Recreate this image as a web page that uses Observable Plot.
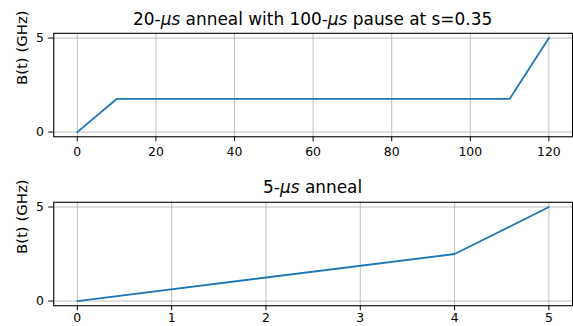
<!DOCTYPE html>
<html>
<head>
<meta charset="utf-8">
<script src="https://cdn.jsdelivr.net/npm/d3@7"></script>
<script src="https://cdn.jsdelivr.net/npm/@observablehq/plot@0.6"></script>
<style>
  html, body { margin: 0; padding: 0; background: #fff; overflow: hidden; }
  #chart { width: 573px; height: 326px; overflow: hidden; }
  #chart svg { display: block; }
</style>
</head>
<body>
<div id="chart"></div>
<script>
// Annealing schedules: transverse field B(t) against time t (µs)

// 20-µs anneal with a 100-µs pause at s = 0.35
const pauseTime = [0, 10, 110, 120];
const pauseField = [0, 1.76, 1.76, 5.0];
const pauseTicksX = [0, 20, 40, 60, 80, 100, 120];

// plain 5-µs anneal
const plainTime = [0, 4, 5];
const plainField = [0, 2.5, 5.0];
const plainTicksX = [0, 1, 2, 3, 4, 5];

const ticksY = [0, 5];
const yLabel = "B(t) (GHz)";

const FONT = "DejaVu Sans, sans-serif";
const BLUE = "#1f77b4";
const GRID = "#b0b0b0";
const TICK_FONT = 12.5;
const LABEL_FONT = 15;
const TITLE_FONT = 17;

function panel({time, field, ticksX, titleParts, marginTop, marginBottom, titleY, xPad}) {
  const data = time.map((t, i) => ({t, b: field[i]}));
  const xMax = time[time.length - 1];
  const pad = xMax * 0.05;
  const svg = Plot.plot({
    width: 576,
    height: 163,
    marginLeft: 53.5,
    marginRight: 1,
    marginTop,
    marginBottom,
    style: {fontFamily: FONT, fontSize: `${TICK_FONT}px`, color: "#000", background: "#fff"},
    x: {domain: [-pad, xMax + pad]},
    y: {domain: [-0.25, 5.25]},
    marks: [
      Plot.gridX(ticksX, {stroke: GRID, strokeOpacity: 1, strokeWidth: 0.8}),
      Plot.gridY(ticksY, {stroke: GRID, strokeOpacity: 1, strokeWidth: 0.8}),
      Plot.line(data, {x: "t", y: "b", stroke: BLUE, strokeWidth: 1.8}),
      Plot.frame({stroke: "#000", strokeWidth: 1.1}),
      Plot.axisX({ticks: ticksX, tickFormat: (d) => String(d), tickSize: 5, tickPadding: xPad, label: null,
                  fontSize: TICK_FONT, fontFamily: FONT}),
      Plot.axisY({ticks: ticksY, tickFormat: (d) => String(d), tickSize: 5, tickPadding: 5, label: null,
                  fontSize: TICK_FONT, fontFamily: FONT}),
      Plot.text([yLabel], {frameAnchor: "left", rotate: -90, dx: -32, fontSize: LABEL_FONT, fontFamily: FONT, fill: "#000"})
    ]
  });
  // title with the italic µs unit
  const cx = (53.5 + 575) / 2;
  const title = d3.select(svg).append("text")
    .attr("x", cx)
    .attr("y", titleY)
    .attr("text-anchor", "middle")
    .attr("font-family", FONT)
    .attr("font-size", `${TITLE_FONT}px`)
    .attr("fill", "#000");
  for (const [txt, italic] of titleParts) {
    const ts = title.append("tspan").text(txt);
    if (italic) ts.attr("font-style", "italic");
  }
  return svg;
}

const chart = document.getElementById("chart");
chart.append(panel({
  time: pauseTime, field: pauseField, ticksX: pauseTicksX,
  titleParts: [["20-", false], ["μs", true], [" anneal with 100-", false], ["μs", true], [" pause at s=0.35", false]],
  marginTop: 33, marginBottom: 26, titleY: 25, xPad: 5
}));
chart.append(panel({
  time: plainTime, field: plainField, ticksX: plainTicksX,
  titleParts: [["5-", false], ["μs", true], [" anneal", false]],
  marginTop: 40, marginBottom: 19, titleY: 31.5, xPad: 2
}));
</script>
</body>
</html>
